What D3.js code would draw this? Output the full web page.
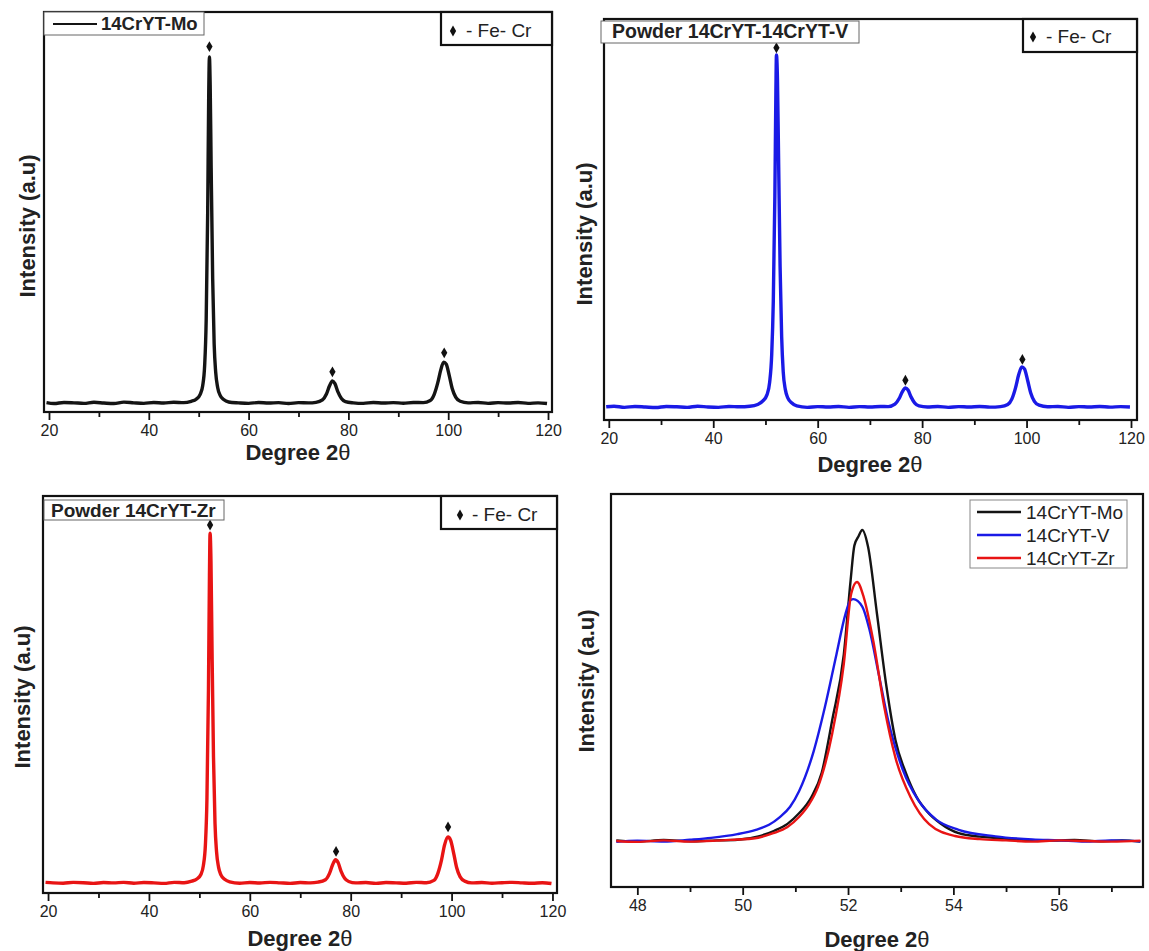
<!DOCTYPE html>
<html><head><meta charset="utf-8">
<script src="https://cdn.jsdelivr.net/npm/d3@7"></script>
<style>
body{margin:0;background:#fff}
svg{display:block;font-family:"Liberation Sans",Arial,Helvetica,sans-serif}
</style>
</head><body>
<svg id="c" width="1149" height="951"></svg>
<script>
// ---------------- DATA ----------------
const wideTicks = [20, 40, 60, 80, 100, 120];
const wideMinor = [30, 50, 70, 90, 110];
const zoomTicks = [48, 50, 52, 54, 56];
const zoomMinor = [49, 51, 53, 55, 57];

// [2θ, intensity (a.u.)]  — full-range patterns
const moWide = [[19.5,0.1],[21,-0.15],[23,0.15],[25,0.05],[27,-0.1],[29,0.2],[31,0],[33,-0.15],[35,0.25],[37,0.05],[39,-0.1],[41,0.15],[43,0],[45,0.2],[47,0.1],
 [48.5,0.5],[49.5,1.1],[50.3,2.5],[50.8,5],[51.2,11],[51.5,24],[51.8,55],[52.0,88],[52.15,100],[52.3,92],[52.5,68],[52.8,36],[53.1,17],[53.4,9],[53.8,4.5],[54.3,2.2],[55,1.0],[56,0.3],
 [58,0.05],[60,-0.1],[62,0.15],[64,0],[66,0.1],[68,-0.15],[70,0.1],[72,0.05],[73.5,0.2],
 [74.8,0.9],[75.6,2.6],[76.2,4.9],[76.8,6.4],[77.3,5.6],[77.9,3.2],[78.6,1.3],[79.4,0.4],
 [81,0.05],[83,-0.1],[85,0.15],[87,0],[89,0.1],[91,-0.05],[93,0.15],[95,0.1],
 [96.4,0.7],[97.2,2.5],[97.9,5.8],[98.5,9.5],[99.1,11.8],[99.6,11.2],[100.2,8],[100.8,4.2],[101.5,1.7],[102.4,0.5],
 [104,0.05],[106,0.15],[108,-0.1],[110,0.1],[112,0],[114,0.15],[116,-0.1],[118,0.05],[119.8,-0.15]];

const vWide = [[19.5,0.05],[21,0.2],[23,-0.1],[25,0.15],[27,0],[29,-0.15],[31,0.15],[33,0.05],[35,-0.1],[37,0.2],[39,0],[41,-0.1],[43,0.15],[45,0.05],[47,0.2],
 [48.5,0.7],[49.5,1.7],[50.3,3.5],[50.8,7],[51.2,15],[51.5,30],[51.8,60],[52.0,90],[52.1,100],[52.3,93],[52.5,72],[52.8,40],[53.1,20],[53.4,10],[53.8,5],[54.3,2.5],[55,1.2],[56,0.3],
 [58,-0.1],[60,0.1],[62,0],[64,0.15],[66,-0.1],[68,0.1],[70,0],[72,0.15],[73.5,0.1],
 [74.8,0.8],[75.6,2.4],[76.2,4.3],[76.8,5.4],[77.3,4.8],[77.9,2.8],[78.6,1.1],[79.4,0.3],
 [81,0],[83,0.15],[85,-0.1],[87,0.1],[89,0],[91,0.15],[93,-0.05],[95,0.1],
 [96.4,0.7],[97.2,2.3],[97.9,5.5],[98.5,9.2],[99.1,11.4],[99.6,10.8],[100.2,7.6],[100.8,4],[101.5,1.6],[102.4,0.5],
 [104,0.05],[106,0.15],[108,-0.1],[110,0.1],[112,0],[114,0.15],[116,-0.05],[118,0.1],[119.8,0]];

const zrWide = [[19.5,0.15],[21,0],[23,-0.1],[25,0.15],[27,0.05],[29,-0.15],[31,0.1],[33,0],[35,0.15],[37,-0.1],[39,0.1],[41,0],[43,-0.15],[45,0.15],[47,0.05],
 [48.5,0.5],[49.5,1.1],[50.3,2.4],[50.8,5],[51.2,11],[51.5,24],[51.8,55],[52.0,88],[52.12,100],[52.3,92],[52.5,68],[52.8,36],[53.1,17],[53.4,9],[53.8,4.5],[54.3,2.2],[55,1.0],[56,0.3],
 [58,-0.1],[60,0.1],[62,-0.05],[64,0.15],[66,0],[68,-0.15],[70,0.1],[72,0],[73.5,0.2],
 [75.0,0.9],[75.8,2.7],[76.4,5.1],[77.0,6.6],[77.5,5.8],[78.1,3.3],[78.8,1.3],[79.6,0.4],
 [81,0],[83,0.1],[85,-0.15],[87,0.1],[89,0],[91,-0.1],[93,0.15],[95,0.05],
 [96.5,0.7],[97.3,2.8],[98.0,6.5],[98.6,10.8],[99.3,13.1],[99.8,12.2],[100.4,8.6],[101.0,4.4],[101.7,1.7],[102.6,0.5],
 [104,0],[106,0.1],[108,-0.1],[110,0.05],[112,0.15],[114,0],[116,-0.1],[118,0.05],[119.8,-0.2]];

// Fe-Cr peak markers [2θ, intensity]
const moMarks = [[52.15,103],[76.8,9],[99.2,14.5]];
const vMarks = [[52.1,102],[76.8,7.6],[99.2,13.5]];
const zrMarks = [[52.12,102.3],[77.1,9],[99.3,16]];

// zoomed region 47.5-57.5 (2θ)
const moZoom = [[47.6,0.2],[48,-0.2],[48.5,0.3],[49,-0.1],[49.5,0.2],[49.9,0.4],[50.3,1.5],[50.6,3.3],[50.85,5.5],[51.07,8.9],[51.3,14],[51.5,21.9],[51.7,38.9],[51.92,60],[52.05,84],[52.12,95],[52.2,98],[52.27,100],[52.38,94.6],[52.55,73],[52.73,49.6],[52.9,32.5],[53.1,21.8],[53.3,14.2],[53.5,9.5],[53.75,5.7],[54.1,2.5],[54.5,1.4],[54.8,1],[55.3,0.4],[55.8,0.1],[56.3,0.3],[56.8,-0.1],[57.2,0.2],[57.55,-0.2]];
const vZoom = [[47.6,-0.3],[48,0.1],[48.5,-0.2],[49,0.4],[49.4,1],[49.9,2.2],[50.25,3.6],[50.5,5.2],[50.7,7.6],[50.9,11],[51.07,16],[51.35,29],[51.56,43],[51.78,60],[51.95,72.9],[52.05,77.5],[52.1,77.8],[52.27,75.4],[52.41,67.8],[52.58,53.9],[52.76,38.9],[53.04,22.9],[53.33,13.2],[53.68,6.8],[54.1,3.6],[54.8,1.5],[55.5,0.5],[56,0.2],[56.5,-0.2],[57,0.2],[57.55,-0.1]];
const zrZoom = [[47.6,0],[48,-0.3],[48.5,0.2],[49,-0.2],[49.5,0.1],[49.9,0.5],[50.2,0.8],[50.58,2.5],[50.85,4.5],[51.07,7.7],[51.25,11.5],[51.43,17.4],[51.7,34.6],[51.92,57],[52.06,79.5],[52.17,83.3],[52.3,78.3],[52.48,64.3],[52.69,42.9],[52.9,26.8],[53.19,14],[53.54,5.4],[54.03,1.6],[54.5,0.6],[55,0.2],[55.5,-0.2],[56,0.2],[56.5,0],[57,-0.2],[57.55,0.1]];

const seriesNames = ["14CrYT-Mo", "14CrYT-V", "14CrYT-Zr"];
const seriesColors = ["#141414", "#1a1ae6", "#e81414"];
const panelTitles = ["14CrYT-Mo", "Powder 14CrYT-14CrYT-V", "Powder 14CrYT-Zr"];
const phaseLabel = "- Fe- Cr";
const xTitle = "Degree 2";
const yTitle = "Intensity (a.u)";

// ---------------- LAYOUT ----------------
const svg = d3.select("#c");
const panels = [
  {f:[44,12,552,412], xd:[19.0,120.8], yd:[-2.6,113], ticks:wideTicks, minor:wideMinor,
   series:[{d:moWide,c:seriesColors[0]}], marks:moMarks, sw:3.4,
   xt:[298,460], yt:[27,226],
   title:{text:panelTitles[0], box:[44,12,204,35], tx:101, ty:30, fs:18.5, line:[53,97,24,seriesColors[0]]},
   phase:{box:[441,12,552,45], dx:453, dy:31, tx:466, ty:37}},
  {f:[604,19,1137,420], xd:[19.08,121.15], yd:[-3.7,110.2], ticks:wideTicks, minor:wideMinor,
   series:[{d:vWide,c:seriesColors[1]}], marks:vMarks, sw:3.4,
   xt:[870,472], yt:[584,234],
   title:{text:panelTitles[1], box:[601,21,859,43], tx:612, ty:38, fs:19.5},
   phase:{box:[1023,19,1137,52], dx:1033, dy:37, tx:1046, ty:43}},
  {f:[43,496,557,893], xd:[19.0,120.9], yd:[-2.9,110.6], ticks:wideTicks, minor:wideMinor,
   series:[{d:zrWide,c:seriesColors[2]}], marks:zrMarks, sw:3.4,
   xt:[300,946], yt:[22,697],
   title:{text:panelTitles[2], box:[44,500,224,520], tx:51, ty:517, fs:19},
   phase:{box:[441,496,557,529], dx:460, dy:515, tx:472, ty:521}},
  {f:[611,494,1143,887], xd:[47.5,57.6], yd:[-14.8,111.6], ticks:zoomTicks, minor:zoomMinor,
   series:[{d:moZoom,c:seriesColors[0]},{d:vZoom,c:seriesColors[1]},{d:zrZoom,c:seriesColors[2]}], sw:2.4,
   xt:[877,947], yt:[586,681],
   legend:{box:[970,500,1127,568], x0:977, x1:1021, tx:1026, rows:[512,535,558]}}
];

const diamond = d3.symbol().type(d3.symbolDiamond).size(34);

panels.forEach((p, i) => {
  const [l,t,r,b] = p.f;
  const x = d3.scaleLinear().domain(p.xd).range([l, r]);
  const y = d3.scaleLinear().domain(p.yd).range([b, t]);
  const g = svg.append("g");
  const cid = "clip" + i;
  svg.append("clipPath").attr("id", cid).append("rect").attr("x", l).attr("y", t).attr("width", r-l).attr("height", b-t);

  // major ticks + labels
  const ax = d3.axisBottom(x).tickValues(p.ticks).tickSize(8).tickPadding(5).tickFormat(d3.format("d"));
  const axg = g.append("g").attr("transform", `translate(0,${b})`).call(ax);
  axg.select(".domain").remove();
  axg.selectAll(".tick line").attr("stroke", "#111").attr("stroke-width", 1.8);
  axg.selectAll(".tick text").attr("font-size", 16).attr("fill", "#222")
     .attr("font-family", '"Liberation Sans",Arial,sans-serif');
  // minor ticks
  const mx = d3.axisBottom(x).tickValues(p.minor).tickSize(5).tickFormat("");
  const mg = g.append("g").attr("transform", `translate(0,${b})`).call(mx);
  mg.select(".domain").remove();
  mg.selectAll(".tick line").attr("stroke", "#111").attr("stroke-width", 1.8);

  // series
  const line = d3.line().x(d => x(d[0])).y(d => y(d[1])).curve(d3.curveMonotoneX);
  const sg = g.append("g").attr("clip-path", `url(#${cid})`);
  p.series.forEach(s => {
    sg.append("path").datum(s.d).attr("d", line).attr("fill", "none")
      .attr("stroke", s.c).attr("stroke-width", p.sw).attr("stroke-linejoin", "round");
  });

  // peak markers
  if (p.marks) {
    g.selectAll(null).data(p.marks).join("path")
      .attr("d", diamond).attr("fill", "#111")
      .attr("transform", d => `translate(${x(d[0])},${y(d[1])})`);
  }

  // frame
  g.append("rect").attr("x", l).attr("y", t).attr("width", r-l).attr("height", b-t)
    .attr("fill", "none").attr("stroke", "#111").attr("stroke-width", 2.2);

  // axis titles
  const xtT = g.append("text").attr("x", p.xt[0]).attr("y", p.xt[1]).attr("text-anchor", "middle")
    .attr("font-size", 22).attr("font-weight", "bold").attr("fill", "#222");
  xtT.append("tspan").text(xTitle);
  xtT.append("tspan").attr("font-weight", "normal").text("θ");
  g.append("text").attr("transform", `translate(${p.yt[0]},${p.yt[1]}) rotate(-90)`)
    .attr("text-anchor", "middle").attr("dominant-baseline", "central")
    .attr("font-size", 22).attr("font-weight", "bold").attr("fill", "#222").text(yTitle);

  // title legend box
  if (p.title) {
    const tb = p.title.box;
    g.append("rect").attr("x", tb[0]).attr("y", tb[1]).attr("width", tb[2]-tb[0]).attr("height", tb[3]-tb[1])
      .attr("fill", "#fff").attr("stroke", "#666").attr("stroke-width", 1);
    if (p.title.line) {
      const ln = p.title.line;
      g.append("line").attr("x1", ln[0]).attr("x2", ln[1]).attr("y1", ln[2]).attr("y2", ln[2])
        .attr("stroke", ln[3]).attr("stroke-width", 2);
    }
    g.append("text").attr("x", p.title.tx).attr("y", p.title.ty).attr("font-size", p.title.fs)
      .attr("font-weight", "bold").attr("fill", "#222").text(p.title.text);
  }
  // phase legend box
  if (p.phase) {
    const pb = p.phase.box;
    g.append("rect").attr("x", pb[0]).attr("y", pb[1]).attr("width", pb[2]-pb[0]).attr("height", pb[3]-pb[1])
      .attr("fill", "#fff").attr("stroke", "#111").attr("stroke-width", 2.2);
    g.append("path").attr("d", diamond).attr("fill", "#111")
      .attr("transform", `translate(${p.phase.dx},${p.phase.dy})`);
    g.append("text").attr("x", p.phase.tx).attr("y", p.phase.ty).attr("font-size", 19)
      .attr("fill", "#222").text(phaseLabel);
  }
  // series legend
  if (p.legend) {
    const lb = p.legend.box;
    g.append("rect").attr("x", lb[0]).attr("y", lb[1]).attr("width", lb[2]-lb[0]).attr("height", lb[3]-lb[1])
      .attr("fill", "#fff").attr("stroke", "#888").attr("stroke-width", 1);
    p.legend.rows.forEach((ry, k) => {
      g.append("line").attr("x1", p.legend.x0).attr("x2", p.legend.x1).attr("y1", ry).attr("y2", ry)
        .attr("stroke", seriesColors[k]).attr("stroke-width", 2.4);
      g.append("text").attr("x", p.legend.tx).attr("y", ry).attr("dominant-baseline", "central")
        .attr("font-size", 19).attr("fill", "#222").text(seriesNames[k]);
    });
  }
});
</script>
</body></html>
